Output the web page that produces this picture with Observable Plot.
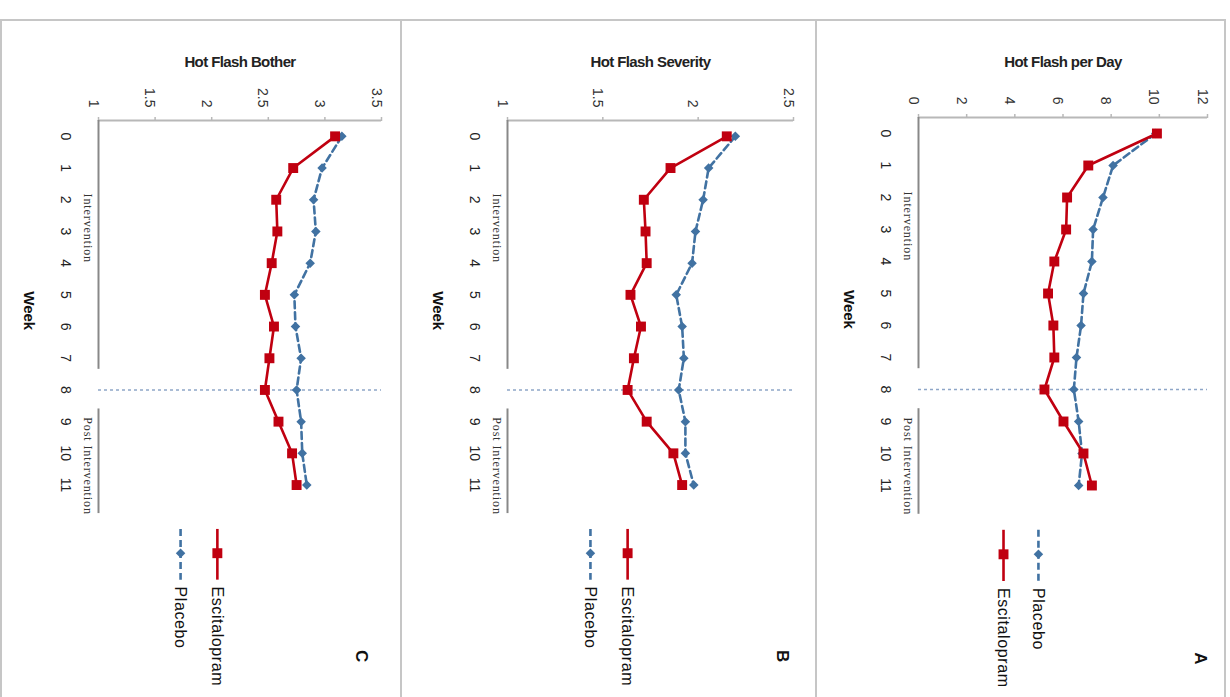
<!DOCTYPE html>
<html><head><meta charset="utf-8">
<script src="https://cdn.jsdelivr.net/npm/d3@7"></script>
<script src="https://cdn.jsdelivr.net/npm/@observablehq/plot@0.6"></script>
<style>
body{margin:0;background:#fff;width:1230px;height:697px;overflow:hidden;position:relative;font-family:"Liberation Sans",Arial,sans-serif}
.panel{position:absolute;top:20px;height:677px}
.ln{position:absolute;background:#c6c6c6}
</style></head><body>
<div class="ln" style="left:0;top:19px;width:1226px;height:2px"></div>
<div class="ln" style="left:0;top:19px;width:2px;height:678px"></div>
<div class="ln" style="left:400px;top:19px;width:2px;height:678px"></div>
<div class="ln" style="left:815px;top:19px;width:2px;height:678px"></div>
<div class="ln" style="left:1224px;top:19px;width:2px;height:678px"></div>
<div id="pc" class="panel" style="left:0;width:401px"></div>
<div id="pb" class="panel" style="left:401px;width:415px"></div>
<div id="pa" class="panel" style="left:816px;width:410px"></div>
<script>
// ---- data ----
const weeks = [0, 1, 2, 3, 4, 5, 6, 7, 8, 9, 10, 11];
const perDayEscitalopram = [9.9, 7.05, 6.17, 6.13, 5.64, 5.38, 5.6, 5.64, 5.23, 6.02, 6.85, 7.2];
const perDayPlacebo      = [9.85, 8.08, 7.66, 7.25, 7.2, 6.85, 6.75, 6.56, 6.45, 6.65, 6.79, 6.65];
const severityEscitalopram = [2.15, 1.855, 1.715, 1.724, 1.73, 1.645, 1.70, 1.663, 1.63, 1.73, 1.87, 1.916];
const severityPlacebo      = [2.195, 2.055, 2.026, 1.986, 1.968, 1.885, 1.916, 1.925, 1.898, 1.933, 1.933, 1.977];
const botherEscitalopram = [3.09, 2.72, 2.57, 2.58, 2.53, 2.47, 2.55, 2.51, 2.47, 2.59, 2.71, 2.75];
const botherPlacebo      = [3.15, 2.975, 2.90, 2.92, 2.87, 2.73, 2.74, 2.79, 2.75, 2.79, 2.80, 2.84];
const perDayTicks = [0, 2, 4, 6, 8, 10, 12];
const severityTicks = [1, 1.5, 2, 2.5];
const botherTicks = [1, 1.5, 2, 2.5, 3, 3.5];
const seriesNames = ["Escitalopram", "Placebo"];
const phaseLabels = ["Intervention", "Post Intervention"];

// ---- styles ----
const RED = "#c00010", BLUE = "#4172a2";
const style = {
  Escitalopram: {stroke: RED, dash: null, symbol: "square", r: 5.6},
  Placebo: {stroke: BLUE, dash: "7,4", symbol: "diamond2", r: 4.3}
};
const SANS = "'Liberation Sans', Arial, sans-serif";

function panel(cfg) {
  const height = 677;
  const marginBottom = height - cfg.marginTop - 12 * cfg.step;
  const x0 = cfg.ticks[0], x1 = cfg.ticks[cfg.ticks.length - 1];
  const rows = name => weeks.map((w, i) => ({week: w, value: cfg.values[name][i]}));
  const seriesMarks = [];
  for (const name of ["Placebo", "Escitalopram"]) {
    const s = style[name];
    seriesMarks.push(
      Plot.line(rows(name), {x: "value", y: "week", stroke: s.stroke, strokeWidth: 2.6, strokeDasharray: s.dash}),
      Plot.dot(rows(name), {x: "value", y: "week", symbol: s.symbol, r: s.r, fill: s.stroke, stroke: "none"})
    );
  }
  const legendMarks = [];
  for (const item of cfg.legend) {
    const s = style[item.name];
    legendMarks.push(
      Plot.ruleX([item.x], {y1: 12.4, y2: 14.0, stroke: s.stroke, strokeWidth: 2.6, strokeDasharray: s.dash}),
      Plot.dot([item.x], {x: d => d, y: 13.15, symbol: s.symbol, r: s.r, fill: s.stroke, stroke: "none"}),
      Plot.text([item.name], {x: item.x, y: 14.2, text: d => d, rotate: 90, textAnchor: "start", fontSize: 16, fill: "#111", fontFamily: SANS})
    );
  }
  const svg = Plot.plot({
    width: cfg.width, height,
    marginLeft: cfg.marginLeft, marginRight: cfg.marginRight,
    marginTop: cfg.marginTop, marginBottom,
    x: {domain: [x0, x1]},
    y: {domain: [-0.5, 11.5], reverse: true, axis: null},
    style: {background: "transparent", fontFamily: SANS},
    marks: [
      Plot.axisX({anchor: "top", ticks: cfg.ticks, tickSize: 4, tickFormat: () => "", stroke: "#b8b8b8", strokeWidth: 1.5, label: null}),
      Plot.ruleY([-0.5], {x1: x0, x2: x1, stroke: "#b8b8b8", strokeWidth: 2}),
      Plot.text(cfg.ticks, {x: d => d, text: d => String(d), frameAnchor: "top", dy: -13, rotate: 90, textAnchor: "end", fontSize: 14, fill: "#333"}),
      Plot.text(weeks, {y: d => d, text: d => String(d), frameAnchor: "left", dx: -33, rotate: 90, textAnchor: "middle", fontSize: 14, fill: "#222"}),
      Plot.text(["Week"], {y: 5.5, text: d => d, frameAnchor: "left", dx: -70, rotate: 90, textAnchor: "middle", fontSize: 15, fontWeight: "bold", fill: "#111"}),
      Plot.ruleX([x0], {y1: -0.5, y2: 7.35, stroke: "#888", strokeWidth: 2}),
      Plot.ruleX([x0], {y1: 8.6, y2: 11.9, stroke: "#888", strokeWidth: 2}),
      Plot.text([{t: phaseLabels[0], y: 2.9}, {t: phaseLabels[1], y: 10.4}], {y: "y", text: "t", frameAnchor: "left", dx: -11, rotate: 90, textAnchor: "middle", fontSize: 12, fill: "#333", fontFamily: "'Liberation Serif', 'Times New Roman', serif"}),
      Plot.ruleY([8], {x1: x0, x2: x1, stroke: "#8ea6c8", strokeWidth: 1.5, strokeDasharray: "3,3"}),
      ...seriesMarks,
      ...legendMarks,
      Plot.text([cfg.letter.text], {x: cfg.letter.x, y: 16.4, text: d => d, rotate: 90, fontSize: 17, fontWeight: "bold", fill: "#111"}),
      Plot.text([cfg.title], {frameAnchor: "top", dy: cfg.titleDy, text: d => d, fontSize: 15, fontWeight: "bold", fill: "#222"})
    ]
  });
  d3.select(svg).selectAll("text").filter(function() { return /Intervention/.test(this.textContent); }).attr("letter-spacing", "0.9px");
  d3.select(svg).selectAll("text").filter(function() { return seriesNames.includes(this.textContent); }).attr("letter-spacing", "0.6px");
  d3.select(svg).selectAll("text").filter(function() { return this.textContent === cfg.title; }).attr("letter-spacing", "-0.6px");
  return svg;
}

document.getElementById("pa").append(panel({
  width: 410, marginLeft: 102, marginRight: 19, marginTop: 97, step: 32, titleDy: -61,
  ticks: perDayTicks, title: "Hot Flash per Day",
  values: {Escitalopram: perDayEscitalopram, Placebo: perDayPlacebo},
  legend: [{name: "Placebo", x: 4.98}, {name: "Escitalopram", x: 3.53}],
  letter: {text: "A", x: 11.7}
}));
document.getElementById("pb").append(panel({
  width: 415, marginLeft: 106, marginRight: 23, marginTop: 100, step: 31.7, titleDy: -64,
  ticks: severityTicks, title: "Hot Flash Severity",
  values: {Escitalopram: severityEscitalopram, Placebo: severityPlacebo},
  legend: [{name: "Escitalopram", x: 1.63}, {name: "Placebo", x: 1.435}],
  letter: {text: "B", x: 2.44}
}));
document.getElementById("pc").append(panel({
  width: 401, marginLeft: 98, marginRight: 20, marginTop: 100, step: 31.7, titleDy: -64,
  ticks: botherTicks, title: "Hot Flash Bother",
  values: {Escitalopram: botherEscitalopram, Placebo: botherPlacebo},
  legend: [{name: "Escitalopram", x: 2.05}, {name: "Placebo", x: 1.725}],
  letter: {text: "C", x: 3.32}
}));
</script>
</body></html>
